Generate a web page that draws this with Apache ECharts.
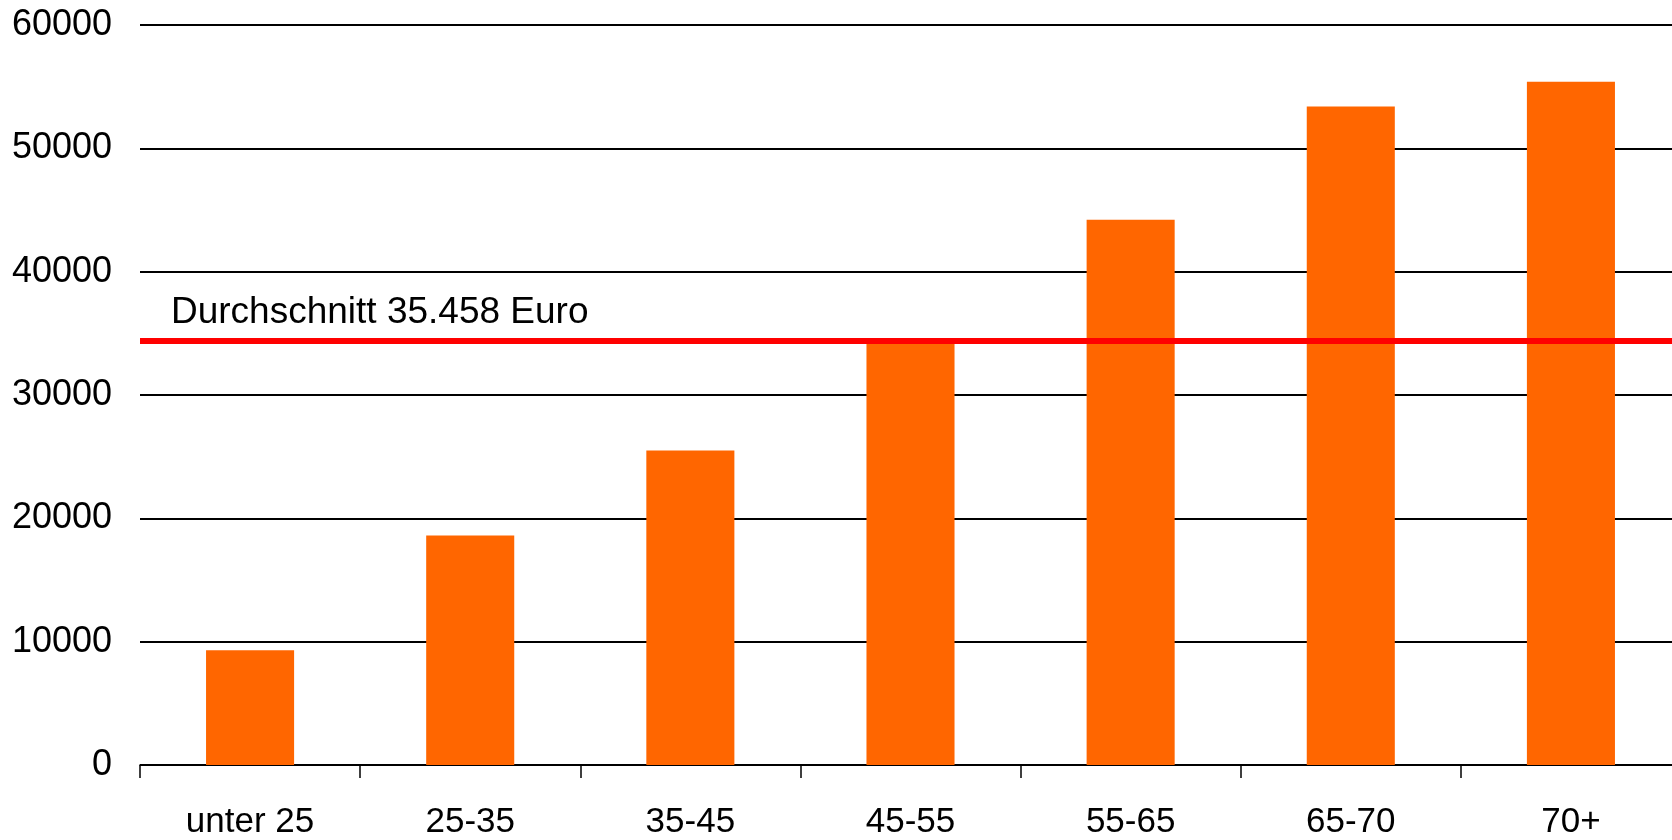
<!DOCTYPE html>
<html>
<head>
<meta charset="utf-8">
<script src="https://cdn.jsdelivr.net/npm/echarts@6/dist/echarts.min.js"></script>
<style>
html,body{margin:0;padding:0;background:#fff;overflow:hidden;}
#chart{width:1681px;height:840px;}
</style>
</head>
<body>
<div id="chart"></div>
<script>
const categories = ['unter 25', '25-35', '35-45', '45-55', '55-65', '65-70', '70+'];
const values = [9300, 18600, 25500, 34400, 44200, 53400, 55400];
const averageLineValue = 34400;
const averageLabel = 'Durchschnitt 35.458 Euro';
const yTicks = { min: 0, max: 60000, interval: 10000 };

const chart = echarts.init(document.getElementById('chart'), null, { renderer: 'canvas' });
const font = 'Liberation Sans, Arial, sans-serif';
chart.setOption({
  animation: false,
  backgroundColor: '#ffffff',
  grid: { left: 140, right: 0, top: 25, bottom: 75, containLabel: false },
  xAxis: {
    type: 'category',
    data: categories,
    axisLine: { show: true, lineStyle: { color: '#000', width: 1.5 } },
    axisTick: { show: true, length: 13, lineStyle: { color: '#000', width: 1.5 } },
    axisLabel: { color: '#000', fontSize: 35, fontFamily: font, margin: 40 },
    splitLine: { show: false }
  },
  yAxis: {
    type: 'value',
    min: yTicks.min, max: yTicks.max, interval: yTicks.interval,
    axisLine: { show: false },
    axisTick: { show: false },
    axisLabel: { color: '#000', fontSize: 36, fontFamily: font, margin: 28, formatter: function (v) { return String(v); } },
    splitLine: { show: true, lineStyle: { color: '#000', width: 1.8 } }
  },
  series: [{
    type: 'bar',
    data: values,
    barWidth: '40%',
    itemStyle: { color: '#FF6600' },
    markLine: {
      silent: true,
      symbol: 'none',
      z: 10,
      lineStyle: { color: '#FF0000', width: 6, type: 'solid' },
      label: {
        show: true,
        position: 'insideStartTop',
        formatter: averageLabel,
        color: '#000',
        fontSize: 37,
        fontFamily: font,
        distance: [31, 9]
      },
      data: [{ yAxis: averageLineValue }]
    }
  }]
});
</script>
</body>
</html>
